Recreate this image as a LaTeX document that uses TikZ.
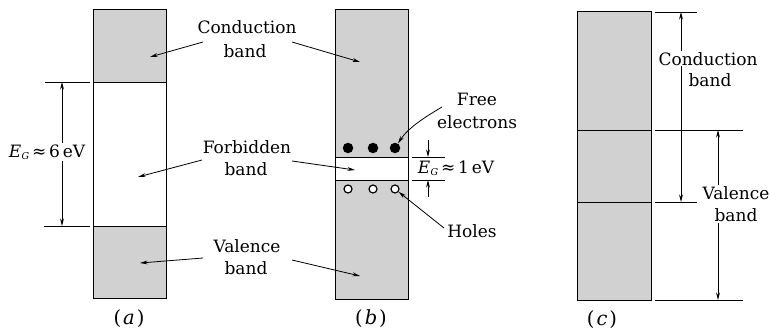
\documentclass[tikz,border=0pt]{standalone}
\usepackage{fontspec}
\setmainfont{DejaVu Serif}
\usetikzlibrary{arrows.meta}
\newcommand{\EG}{{\itshape E}\kern0.5pt\raisebox{-0.3ex}{\fontsize{9.5}{9.5}\selectfont\itshape G}}
\begin{document}
\begin{tikzpicture}[x=1pt,y=-1pt,
  lbl/.style={font=\fontsize{17}{22.5}\selectfont, align=center, inner sep=1pt},
  panlbl/.style={font=\fontsize{19.5}{22}\selectfont, inner sep=1pt},
  arr/.style={-{Stealth[length=7.5pt,width=3.8pt]}, line width=0.8pt},
  dbl/.style={{Stealth[length=7.5pt,width=3.8pt]}-{Stealth[length=7.5pt,width=3.8pt]}, line width=0.75pt},
  bandfill/.style={fill=black!18},
  boxline/.style={draw=black, line width=1pt},
  dim/.style={line width=0.7pt},
]
\useasboundingbox (0,0) rectangle (770,329);
\fill[white] (0,0) rectangle (770,329);

% ---------- panel (a)
\fill[bandfill] (93,10) rectangle (166,82);
\fill[bandfill] (93,226) rectangle (166,298);
\draw[boxline] (93,10) rectangle (166,298);
\draw[boxline] (93,82) -- (166,82);
\draw[boxline] (93,226) -- (166,226);
\coordinate (aCtop) at (45,82);  \coordinate (aCtopE) at (90,82);
\coordinate (aVtop) at (44,226); \coordinate (aVtopE) at (90,226);
\draw[dim] (aCtop) -- (aCtopE);
\draw[dim] (aVtop) -- (aVtopE);
\coordinate (aArrT) at (62,82); \coordinate (aArrB) at (62,226);
\draw[dbl] (aArrT) -- (aArrB);
\node[lbl, fill=white, anchor=base] (egA) at (47,157) {\EG\,≈\,6\,eV};
\node[panlbl, anchor=base] (labA) at (129,324) {(\kern2pt\textit{a}\kern2pt)};

% ---------- panel (b)
\fill[bandfill] (335,10) rectangle (408,157);
\fill[bandfill] (335,180) rectangle (408,299);
\draw[boxline] (335,10) rectangle (408,299);
\draw[boxline] (335,157) -- (408,157);
\draw[boxline] (335,180) -- (408,180);
\foreach \x/\n in {348/1,373/2,395/3} {
  \node[circle, fill=black, inner sep=0pt, minimum size=10.5pt] (el\n) at (\x,148) {};
  \node[circle, draw=black, fill=white, line width=1.2pt, inner sep=0pt, minimum size=8pt] (ho\n) at (\x,189) {};
}
\coordinate (bL1) at (412,157); \coordinate (bL1e) at (445,157);
\coordinate (bL2) at (412,180); \coordinate (bL2e) at (445,180);
\draw[dim] (bL1) -- (bL1e);
\draw[dim] (bL2) -- (bL2e);
\coordinate (bA1) at (428,140); \coordinate (bA1e) at (428,157);
\coordinate (bA2) at (428,197); \coordinate (bA2e) at (428,180);
\draw[arr] (bA1) -- (bA1e);
\draw[arr] (bA2) -- (bA2e);
\node[lbl, anchor=base] (egB) at (456,173) {\EG\,≈\,1\,eV};
\node[lbl, anchor=base] (free1) at (477,105) {Free};
\node[lbl, anchor=base] (free2) at (477,128) {electrons};
\coordinate (freeS) at (442,107);
\draw[arr] (freeS) .. controls (425,117) and (408,128) .. (el3);
\node[lbl, anchor=base] (holes) at (472,237) {Holes};
\coordinate (holesS) at (444,228);
\draw[arr] (holesS) -- (ho3);
\node[panlbl, anchor=base] (labB) at (371,324) {(\kern2pt\textit{b}\kern2pt)};

% ---------- middle labels
\node[lbl, anchor=base] (cond1) at (247,34) {Conduction};
\node[lbl, anchor=base] (cond2) at (245,57) {band};
\node[lbl, anchor=base] (forb1) at (247,153) {Forbidden};
\node[lbl, anchor=base] (forb2) at (246,175) {band};
\node[lbl, anchor=base] (val1) at (247,252) {Valence};
\node[lbl, anchor=base] (val2) at (246,274) {band};
\coordinate (cS1) at (203,42);  \coordinate (cT1) at (150,57);
\coordinate (cS2) at (292,42);  \coordinate (cT2) at (360,62);
\coordinate (fS1) at (202,160); \coordinate (fT1) at (138,177);
\coordinate (fS2) at (292,161); \coordinate (fT2) at (355,170);
\coordinate (vS1) at (203,258); \coordinate (vT1) at (140,263);
\coordinate (vS2) at (292,260); \coordinate (vT2) at (360,276);
\draw[arr] (cS1) -- (cT1);
\draw[arr] (cS2) -- (cT2);
\draw[arr] (fS1) -- (fT1);
\draw[arr] (fS2) -- (fT2);
\draw[arr] (vS1) -- (vT1);
\draw[arr] (vS2) -- (vT2);

% ---------- panel (c)
\fill[bandfill] (577,12) rectangle (651,300);
\draw[boxline] (577,12) rectangle (651,300);
\draw[boxline] (577,130) -- (651,130);
\draw[boxline] (577,202) -- (651,202);
\coordinate (c1) at (655,12);  \coordinate (c1e) at (697,12);
\coordinate (c2) at (655,130); \coordinate (c2e) at (743,130);
\coordinate (c3) at (655,202); \coordinate (c3e) at (697,202);
\coordinate (c4) at (655,300); \coordinate (c4e) at (743,300);
\draw[dim] (c1) -- (c1e);
\draw[dim] (c2) -- (c2e);
\draw[dim] (c3) -- (c3e);
\draw[dim] (c4) -- (c4e);
\coordinate (cdT) at (681,12); \coordinate (cdB) at (681,202);
\draw[dbl] (cdT) -- (cdB);
\coordinate (vdT) at (718,130); \coordinate (vdB) at (718,300);
\draw[dbl] (vdT) -- (vdB);
\node[lbl, anchor=base, fill=white] (ccond1) at (708,65) {Conduction};
\node[lbl, anchor=base] (ccond2) at (710,86) {band};
\node[lbl, fill=white] (cval) at (736,204) {Valence\\band};
\node[panlbl, anchor=base] (labC) at (602,325) {(\kern2pt\textit{c}\kern2pt)};
\end{tikzpicture}
\end{document}
